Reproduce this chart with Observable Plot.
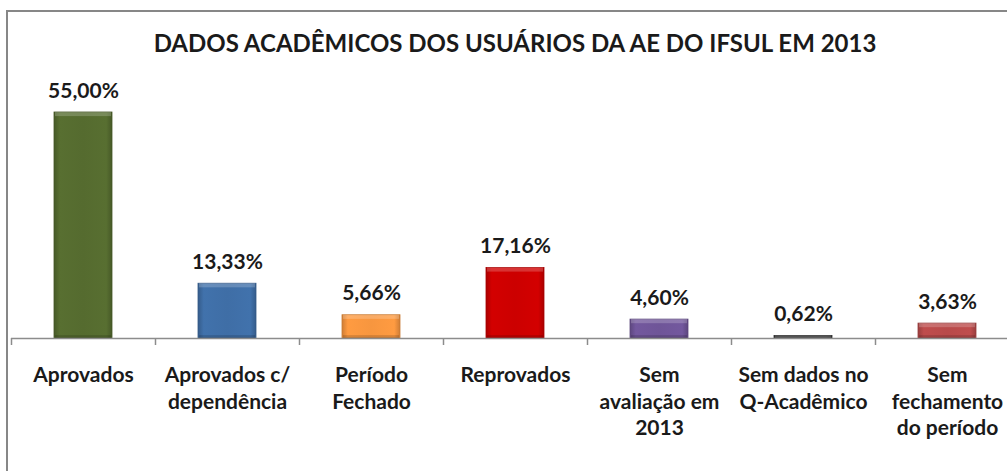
<!DOCTYPE html>
<html><head><meta charset="utf-8">
<script src="https://cdn.jsdelivr.net/npm/d3@7"></script>
<script src="https://cdn.jsdelivr.net/npm/@observablehq/plot@0.6"></script>
<style>
html,body{margin:0;padding:0;background:#fff;overflow:hidden;width:1007px;height:471px}
#wrap{position:relative;width:1030px;height:471px;font-family:Lato, sans-serif}
#frame{position:absolute;left:6px;top:10px;width:1100px;height:600px;border:2px solid #878787;box-sizing:border-box;pointer-events:none}
#title{position:relative;height:70px;box-sizing:border-box;padding-top:31px;line-height:1;text-align:center;font-weight:700;font-size:24px;color:#1a1a1a;white-space:nowrap}
#chart svg{display:block}
</style>
</head><body>
<div id="wrap"><div id="frame"></div><div id="title"></div><div id="chart"></div></div>
<script>
const title = "DADOS ACADÊMICOS DOS USUÁRIOS DA AE DO IFSUL EM 2013";
const categories = ["Aprovados","Aprovados c/ dependência","Período Fechado","Reprovados","Sem avaliação em 2013","Sem dados no Q-Acadêmico","Sem fechamento do período"];
const tickLabels = ["Aprovados","Aprovados c/\ndependência","Período\nFechado","Reprovados","Sem\navaliação em\n2013","Sem dados no\nQ-Acadêmico","Sem\nfechamento\ndo período"];
const values = [55.00,13.33,5.66,17.16,4.60,0.62,3.63];
const colors = ["#556b2f","#3f6ea6","#f7963f","#cc0000","#6f5598","#3a3a3a","#b84a4a"];

document.getElementById("title").textContent = title;

const rows = categories.map((c,i)=>({cat:c, v:values[i], i}));
const fmt = v => v.toFixed(2).replace(".", ",") + "%";

const chart = Plot.plot({
  width: 1030, height: 401,
  marginTop: 42, marginBottom: 133, marginLeft: 11, marginRight: 11,
  style: {fontFamily: "Lato, sans-serif", color: "#1a1a1a", background: "transparent"},
  x: {domain: categories, paddingInner: 0.6, paddingOuter: 0.3, label: null},
  y: {domain: [0, 55], axis: null},
  color: {type: "identity"},
  marks: [
    Plot.barY(rows, {x: "cat", y: "v", fill: d => `url(#g${d.i})`, stroke: d => d3.color(colors[d.i]).darker(0.6).formatHex(), strokeWidth: 0.8}),
    Plot.barY(rows, {x: "cat", y1: d => Math.max(0, d.v - 1.0), y2: "v", insetLeft: 1, insetRight: 1, fill: "white", fillOpacity: 0.2}),
    Plot.barY(rows, {x: "cat", y1: 0, y2: d => Math.min(d.v, 0.7), insetLeft: 1, insetRight: 1, fill: "black", fillOpacity: 0.15}),
    Plot.ruleY([0], {stroke: "#8c8c8c", strokeWidth: 1.5}),
    Plot.axisX({tickSize: 7, tickFormat: null, label: null, dx: -72, stroke: "#8c8c8c", strokeWidth: 1.5}),
    Plot.axisX({tickSize: 0, tickPadding: 25, label: null, tickFormat: d => tickLabels[categories.indexOf(d)], fontSize: 21, fontWeight: "bold", lineHeight: 1.26, fill: "#1a1a1a"}),
    Plot.text(rows, {x: "cat", y: "v", text: d => fmt(d.v), dy: -15, lineAnchor: "bottom", fontSize: 21, fontWeight: "bold", fill: "#1a1a1a"})
  ]
});

const ns = "http://www.w3.org/2000/svg";
const defs = document.createElementNS(ns, "defs");
colors.forEach((c, i) => {
  const g = document.createElementNS(ns, "linearGradient");
  g.setAttribute("id", "g" + i);
  g.setAttribute("x1", "0"); g.setAttribute("x2", "1"); g.setAttribute("y1", "0"); g.setAttribute("y2", "0");
  const base = d3.color(c);
  const stops = [[0, base.darker(0.5)], [0.1, base.brighter(0.1)], [0.5, base], [0.9, base.brighter(0.1)], [1, base.darker(0.5)]];
  stops.forEach(([o, col]) => {
    const s = document.createElementNS(ns, "stop");
    s.setAttribute("offset", o);
    s.setAttribute("stop-color", col.formatHex());
    g.appendChild(s);
  });
  defs.appendChild(g);
});
chart.insertBefore(defs, chart.firstChild);
document.getElementById("chart").appendChild(chart);
</script>
</body></html>
